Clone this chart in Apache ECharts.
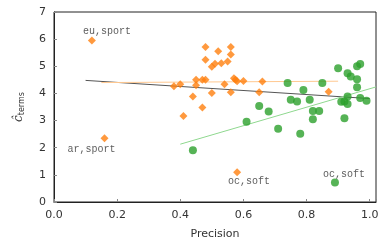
<!DOCTYPE html>
<html><head><meta charset="utf-8">
<script src="https://cdn.jsdelivr.net/npm/echarts@6/dist/echarts.min.js"></script>
<style>html,body{margin:0;padding:0;background:#fff}#c{width:384px;height:245px}</style>
</head><body><div id="c"></div>
<script>
// Orange diamonds
const orangeX = [0.12,0.16,0.38,0.40,0.41,0.44,0.45,0.45,0.47,0.47,0.48,0.48,0.48,0.50,0.50,0.51,0.52,0.53,0.54,0.55,0.56,0.56,0.56,0.57,0.575,0.58,0.60,0.58,0.65,0.66,0.87];
const orangeY = [5.95,2.35,4.26,4.34,3.17,3.89,4.50,4.30,3.48,4.50,4.50,5.71,5.24,4.98,4.02,5.09,5.55,5.11,4.34,5.18,5.71,5.43,4.04,4.56,4.50,4.45,4.46,1.10,4.04,4.44,4.06];
// Green circles
const greenX = [0.44,0.61,0.65,0.68,0.71,0.74,0.75,0.77,0.78,0.79,0.81,0.82,0.82,0.84,0.85,0.89,0.90,0.91,0.92,0.92,0.93,0.93,0.93,0.94,0.96,0.96,0.96,0.97,0.97,0.99];
const greenY = [1.91,2.96,3.54,3.33,2.70,4.38,3.77,3.70,2.51,4.13,3.77,3.35,3.05,3.35,4.38,0.72,4.93,3.69,3.09,3.70,4.74,3.89,3.61,4.62,4.52,4.23,5.00,5.08,3.83,3.73];
// Fitted lines (endpoints)
const fitAllX = [0.10,1.00], fitAllY = [4.48,3.81];
const fitOrangeX = [0.15,0.90], fitOrangeY = [4.40,4.45];
const fitGreenX = [0.40,1.02], fitGreenY = [2.13,4.24];
// Annotations: [series, index, text]
const annotations = [["orange",0,"eu,sport"],["orange",1,"ar,sport"],["orange",27,"oc,soft"],["green",15,"oc,soft"]];
const annotationOffsets = [[15,-9],[-13,11],[12,9.5],[9,-8.5]];
const xTicks = [0,0.2,0.4,0.6,0.8,1.0];

function pts(xs, ys){ return xs.map((x,i)=>[x, ys[i]]); }
function withLabels(name, xs, ys){
  const d = pts(xs, ys);
  annotations.forEach((a,k)=>{
    if(a[0]===name){
      d[a[1]] = {value: d[a[1]], label:{show:true, formatter:a[2], position:'inside', offset:annotationOffsets[k],
        fontFamily:'Liberation Mono', fontSize:10, color:'#333'}};
    }
  });
  return d;
}
const chart = echarts.init(document.getElementById('c'), null, {renderer:'canvas'});
const axisFont = {fontFamily:'DejaVu Sans', fontSize:11, color:'#333'};
chart.setOption({
  animation:false,
  grid:{left:54,right:8,top:12,bottom:41,show:true,borderColor:'#222',borderWidth:1},
  xAxis:{type:'value',min:0,max:1.02,interval:0.2,
    name:'Precision',nameLocation:'middle',nameGap:27,nameTextStyle:{fontFamily:'DejaVu Sans',fontSize:11,color:'#333'},
    axisLine:{show:true,lineStyle:{color:'#222',width:1}},
    axisTick:{show:true,inside:true,length:3,lineStyle:{color:'#888'}},
    splitLine:{show:false},
    axisLabel:Object.assign({margin:8,formatter:v=> xTicks.some(t=>Math.abs(t-v)<1e-6)? v.toFixed(1):''},axisFont)},
  yAxis:{type:'value',min:0,max:7,interval:1,
    name:'{c|ĉ}{s|terms}',nameLocation:'middle',nameGap:28,nameRotate:90,
    nameTextStyle:{rich:{c:{fontFamily:'DejaVu Serif',fontStyle:'italic',fontSize:12,color:'#333'},
      s:{fontFamily:'DejaVu Sans',fontSize:8,color:'#333',verticalAlign:'bottom',padding:[6,0,0,0]}}},
    axisLine:{show:true,lineStyle:{color:'#222',width:1}},
    axisTick:{show:true,inside:true,length:3,lineStyle:{color:'#888'}},
    splitLine:{show:false},
    axisLabel:Object.assign({margin:8},axisFont)},
  series:[
    {type:'line',data:pts(fitAllX,fitAllY),symbol:'none',lineStyle:{color:'#555',width:1},z:1},
    {type:'line',data:pts(fitOrangeX,fitOrangeY),symbol:'none',lineStyle:{color:'#ffc890',width:1},z:1},
    {type:'line',data:pts(fitGreenX,fitGreenY),symbol:'none',lineStyle:{color:'#8fd88f',width:1},z:1},
    {type:'scatter',data:withLabels('orange',orangeX,orangeY),symbol:'diamond',symbolSize:8,itemStyle:{color:'#ff7f0e'},z:2},
    {type:'scatter',data:withLabels('green',greenX,greenY),symbol:'circle',symbolSize:8,itemStyle:{color:'#2ca02c'},z:2}
  ]
});
</script></body></html>
